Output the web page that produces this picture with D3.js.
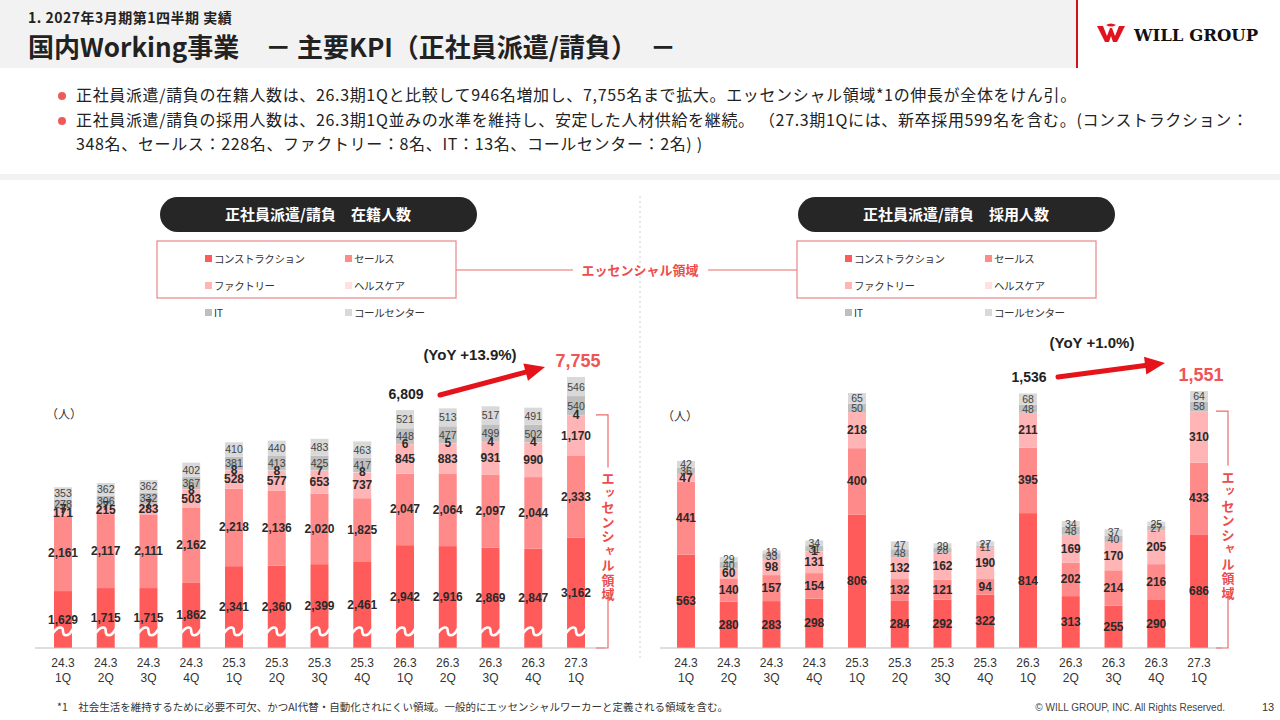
<!DOCTYPE html>
<html>
<head>
<meta charset="utf-8">
<script src="https://cdn.jsdelivr.net/npm/d3@7"></script>
<style>
  body { margin: 0; background: #fff; }
  svg { display: block; font-family: "Noto Sans CJK JP", "Noto Sans", sans-serif; }
  .num { font-family: "Liberation Sans", Arial, sans-serif; }
</style>
</head>
<body>
<svg id="chart" width="1280" height="720"></svg>
<script>
// quarters
var quarters = ["24.3 1Q","24.3 2Q","24.3 3Q","24.3 4Q","25.3 1Q","25.3 2Q","25.3 3Q","25.3 4Q","26.3 1Q","26.3 2Q","26.3 3Q","26.3 4Q","27.3 1Q"];
var segments = ["コンストラクション","セールス","ファクトリー","ヘルスケア","IT","コールセンター"];
var segColors = ["#ff5b5b","#ff8a8a","#ffb5b5","#ffe1e1","#bfbfbf","#d9d9d9"];

// 在籍人数
var hcConstruction = [1629,1715,1715,1862,2341,2360,2399,2461,2942,2916,2869,2847,3162];
var hcSales        = [2161,2117,2111,2162,2218,2136,2020,1825,2047,2064,2097,2044,2333];
var hcFactory      = [171,215,283,503,528,577,653,737,845,883,931,990,1170];
var hcHealthcare   = [7,7,7,8,8,8,7,8,6,5,4,4,4];
var hcIT           = [278,306,332,367,381,413,425,417,448,477,499,502,540];
var hcCallcenter   = [353,362,362,402,410,440,483,463,521,513,517,491,546];

// 採用人数
var hiConstruction = [563,280,283,298,806,284,292,322,814,313,255,290,686];
var hiSales        = [441,140,157,154,400,132,121,94,395,202,214,216,433];
var hiFactory      = [47,60,98,131,218,132,162,190,211,169,170,205,310];
var hiHealthcare   = [0,0,0,1,0,0,0,0,0,0,0,0,0];
var hiIT           = [36,40,33,31,50,48,28,11,48,48,40,27,58];
var hiCallcenter   = [42,29,18,34,65,47,29,27,68,34,37,25,64];

var svg = d3.select("#chart");

// header
svg.append("rect").attr("x",0).attr("y",0).attr("width",1077).attr("height",68).attr("fill","#f2f2f2");
svg.append("rect").attr("x",1076).attr("y",0).attr("width",2).attr("height",68).attr("fill","#d0121b");
svg.append("text").attr("x",28).attr("y",23).text("1. 2027年3月期第1四半期 実績")
  .style("font-size","14px").style("font-weight","bold").style("letter-spacing","0.5px").attr("fill","#222");
svg.append("text").attr("x",28).attr("y",57).text("国内Working事業　－ 主要KPI（正社員派遣/請負）　－")
  .style("font-size","26px").style("font-weight","bold").attr("fill","#222");

// logo
var logo = svg.append("g").attr("transform","translate(1097,25)");
logo.append("path").attr("d","M0,1 L6,1 L10,11 L13,3 L15,3 L18,11 L22,1 L28,1 L20,17 L16,17 L14,11 L12,17 L8,17 Z").attr("fill","#e0141e");
logo.append("path").attr("d","M9,0 Q14,-3 19,0 Q14,3 9,0Z").attr("fill","#e0141e");
svg.append("text").attr("x",1134).attr("y",41).text("WILL GROUP")
  .style("font-family","'DejaVu Serif', serif").style("font-size","16.5px").style("font-weight","bold").attr("fill","#111");

// bullets
var bullets = [
  {y:101, t:"正社員派遣/請負の在籍人数は、26.3期1Qと比較して946名増加し、7,755名まで拡大。エッセンシャル領域*1の伸長が全体をけん引。", dot:true},
  {y:126, t:"正社員派遣/請負の採用人数は、26.3期1Q並みの水準を維持し、安定した人材供給を継続。 （27.3期1Qには、新卒採用599名を含む。(コンストラクション：", dot:true},
  {y:150, t:"348名、セールス：228名、ファクトリー：8名、IT：13名、コールセンター：2名) )", dot:false}
];
bullets.forEach(function(b){
  if (b.dot) svg.append("circle").attr("cx",62).attr("cy",b.y-5).attr("r",4).attr("fill","#ee5a5a");
  svg.append("text").attr("x",76).attr("y",b.y).text(b.t).style("font-size","16px")
    .style("letter-spacing","0.65px").attr("fill","#222");
});
svg.append("rect").attr("x",0).attr("y",174).attr("width",1280).attr("height",6).attr("fill","#f2f2f2");

// divider
svg.append("line").attr("x1",640).attr("x2",640).attr("y1",196).attr("y2",660)
  .attr("stroke","#d0d0d0").attr("stroke-width",1).attr("stroke-dasharray","2,3");

// essential link
svg.append("line").attr("x1",456).attr("x2",573).attr("y1",270).attr("y2",270).attr("stroke","#e86a6a");
svg.append("line").attr("x1",708).attr("x2",797).attr("y1",270).attr("y2",270).attr("stroke","#e86a6a");
svg.append("text").attr("x",640).attr("y",275).attr("text-anchor","middle").text("エッセンシャル領域")
  .style("font-size","13px").style("font-weight","bold").attr("fill","#ee4b4b");

function drawPanel(cfg){
  var g = svg.append("g");
  // title pill
  g.append("rect").attr("x",cfg.pillX).attr("y",197).attr("width",317).attr("height",35).attr("rx",17.5)
    .attr("fill","#262626");
  g.append("text").attr("x",cfg.pillX+158).attr("y",220).attr("text-anchor","middle").text(cfg.title)
    .style("font-size","15px").style("font-weight","bold").attr("fill","#fff");
  // legend
  g.append("rect").attr("x",cfg.legX).attr("y",241).attr("width",299).attr("height",57)
    .attr("fill","none").attr("stroke","#e98686").attr("stroke-width",1.2);
  segments.forEach(function(s,i){
    var lx = cfg.legX + 48 + (i%2)*140, ly = 259 + Math.floor(i/2)*27;
    g.append("rect").attr("x",lx).attr("y",ly-4).attr("width",7).attr("height",7).attr("fill",segColors[i]);
    g.append("text").attr("x",lx+9).attr("y",ly+4).text(s).style("font-size","10.5px")
      .style("letter-spacing","-0.4px").attr("fill","#333");
  });

  var x = d3.scaleBand().domain(quarters).range(cfg.xRange).paddingInner(0.58).paddingOuter(0.29);
  var y = d3.scaleLinear().domain([0, cfg.yMax]).range([648, cfg.yTop]);

  var rows = quarters.map(function(q,i){
    var r = {q:q}; cfg.series.forEach(function(s,j){ r[j] = s[i]; }); return r;
  });
  var stack = d3.stack().keys(d3.range(6))(rows);

  var layers = g.selectAll("g.layer").data(stack).enter().append("g").attr("fill",function(d){ return segColors[d.key]; });
  layers.selectAll("rect").data(function(d){ return d; }).enter().append("rect")
    .attr("x",function(d){ return x(d.data.q); })
    .attr("y",function(d){ return y(d[1]); })
    .attr("width",x.bandwidth())
    .attr("height",function(d){ return y(d[0]) - y(d[1]); });

  // break marks
  if (cfg.breakMarks) {
    quarters.forEach(function(q){
      var bx = x(q) - 1, bw = x.bandwidth() + 2, by = 631;
      g.append("path")
        .attr("d","M"+bx+","+(by+2)+" C"+(bx+bw*0.25)+","+(by-5)+" "+(bx+bw*0.5)+","+(by-5)+" "+(bx+bw*0.5)+","+by+
                  " S"+(bx+bw*0.75)+","+(by+7)+" "+(bx+bw)+","+(by-2))
        .attr("fill","none").attr("stroke","#fff").attr("stroke-width",2.6);
    });
  }

  // segment labels
  stack.forEach(function(layer){
    var k = +layer.key;
    layer.forEach(function(d){
      var v = d[1]-d[0];
      if (v <= 0) return;
      g.append("text").attr("class","num")
        .attr("x", x(d.data.q) + x.bandwidth()/2)
        .attr("y", (y(d[0]) + y(d[1]))/2 + 4)
        .attr("text-anchor","middle")
        .text(d3.format(",")(v))
        .style("font-size", k >= 4 ? "10.5px" : "12px")
        .style("font-weight", k >= 4 ? "normal" : "bold")
        .attr("fill", k >= 4 ? "#444" : "#2a2a2a");
    });
  });

  // axis
  var axis = g.append("g").attr("transform","translate(0,648)")
    .call(d3.axisBottom(x).tickSize(0).tickFormat(""));
  axis.select(".domain").attr("stroke","#bdbdbd").attr("d","M"+cfg.axisX[0]+",0H"+cfg.axisX[1]);
  quarters.forEach(function(q){
    var parts = q.split(" ");
    var t = g.append("text").attr("class","num").attr("text-anchor","middle").attr("fill","#333").style("font-size","12px");
    t.append("tspan").attr("x",x(q)+x.bandwidth()/2).attr("y",667).text(parts[0]);
    t.append("tspan").attr("x",x(q)+x.bandwidth()/2).attr("y",682).text(parts[1]);
  });

  g.append("text").attr("x",cfg.unitX).attr("y",cfg.unitY).text("（人）").style("font-size","12px").attr("fill","#333");

  // YoY annotation
  var totals = rows.map(function(r){ return d3.sum(d3.range(6), function(j){ return r[j]; }); });
  var prev = totals[8], last = totals[12];
  var xp = x(quarters[8]) + x.bandwidth()/2, xl = x(quarters[12]) + x.bandwidth()/2;
  g.append("text").attr("class","num").attr("x",xp+1).attr("y",y(prev)-11).attr("text-anchor","middle")
    .text(d3.format(",")(prev)).style("font-size","14px").style("font-weight","bold").attr("fill","#222");
  g.append("text").attr("class","num").attr("x",xl+2).attr("y",y(last)-10).attr("text-anchor","middle")
    .text(d3.format(",")(last)).style("font-size","18px").style("font-weight","bold").attr("fill","#ee5555");
  var a = cfg.arrow;
  var ang = Math.atan2(a[3]-a[1], a[2]-a[0]);
  var hl = 20, hw = 9;
  var bxp = a[2] - hl*Math.cos(ang), byp = a[3] - hl*Math.sin(ang);
  g.append("line").attr("x1",a[0]).attr("y1",a[1]).attr("x2",bxp).attr("y2",byp)
    .attr("stroke","#e5141b").attr("stroke-width",5).attr("stroke-linecap","round");
  g.append("path").attr("fill","#e5141b").attr("d",
    "M"+a[2]+","+a[3]+
    "L"+(bxp + hw*Math.sin(ang))+","+(byp - hw*Math.cos(ang))+
    "L"+(bxp - hw*Math.sin(ang))+","+(byp + hw*Math.cos(ang))+"Z");
  g.append("text").attr("class","num").attr("x",cfg.yoyX).attr("y",cfg.yoyY).attr("text-anchor","middle")
    .text(cfg.yoy).style("font-size","15px").style("font-weight","bold").attr("fill","#222");

  // essential bracket
  var essTop = y(stack[3][12][1]);
  var bxr = cfg.bracketX;
  var midY = (essTop + 648)/2;
  g.append("path").attr("fill","none").attr("stroke","#e96c6c").attr("stroke-width",1.2)
    .attr("d","M"+(bxr-12)+","+essTop+"H"+bxr+"V"+(midY-64));
  g.append("path").attr("fill","none").attr("stroke","#e96c6c").attr("stroke-width",1.2)
    .attr("d","M"+bxr+","+(midY+64)+"V648H"+(bxr-12));
  var chars = "エッセンシャル領域".split("");
  chars.forEach(function(c,i){
    var small = (c === "ッ" || c === "ャ");
    g.append("text").attr("x",bxr + (small ? 2 : 0)).attr("y",midY - 58 + i*14.5 + 10 - (small ? 2 : 0))
      .attr("text-anchor","middle").text(c)
      .style("font-size", small ? "11px" : "13px").style("font-weight","bold").attr("fill","#ee4b4b");
  });
}

drawPanel({
  title:"正社員派遣/請負　在籍人数", pillX:160, legX:157,
  xRange:[41.6,597.4], axisX:[35,605], yMax:7755, yTop:377,
  series:[hcConstruction,hcSales,hcFactory,hcHealthcare,hcIT,hcCallcenter],
  breakMarks:true, unitX:46, unitY:419,
  arrow:[440,395,545,367], yoy:"(YoY +13.9%)", yoyX:470, yoyY:360, bracketX:608
});
drawPanel({
  title:"正社員派遣/請負　採用人数", pillX:798, legX:797,
  xRange:[664.6,1220.4], axisX:[660,1222], yMax:1551, yTop:391,
  series:[hiConstruction,hiSales,hiFactory,hiHealthcare,hiIT,hiCallcenter],
  breakMarks:false, unitX:662, unitY:421,
  arrow:[1058,377,1165,363], yoy:"(YoY +1.0%)", yoyX:1092, yoyY:348, bracketX:1228
});

// footer
svg.append("text").attr("x",57).attr("y",711).text("*1　社会生活を維持するために必要不可欠、かつAI代替・自動化されにくい領域。一般的にエッセンシャルワーカーと定義される領域を含む。")
  .style("font-size","10.5px").attr("fill","#333");
svg.append("text").attr("class","num").attr("x",1225).attr("y",711).attr("text-anchor","end")
  .text("© WILL GROUP, INC. All Rights Reserved.").style("font-size","10px").attr("fill","#444");
svg.append("text").attr("class","num").attr("x",1262).attr("y",711).text("13").style("font-size","11px").attr("fill","#333");
</script>
</body>
</html>
